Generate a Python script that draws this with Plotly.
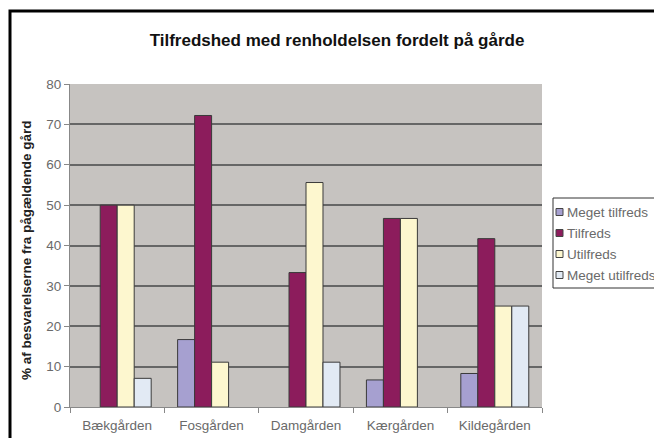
import plotly.graph_objects as go

categories = ["Bækgården", "Fosgården", "Damgården", "Kærgården", "Kildegården"]
series_names = ["Meget tilfreds", "Tilfreds", "Utilfreds", "Meget utilfreds"]
meget_tilfreds = [0, 16.7, 0, 6.7, 8.3]
tilfreds = [50, 72.2, 33.3, 46.7, 41.7]
utilfreds = [50, 11.1, 55.6, 46.7, 25]
meget_utilfreds = [7.1, 0, 11.1, 0, 25]
colors = ["#a6a0d0", "#8c1c5c", "#fdf7cf", "#e2eaf4"]

fig = go.Figure()
for name, vals, col in zip(series_names, [meget_tilfreds, tilfreds, utilfreds, meget_utilfreds], colors):
    fig.add_trace(go.Bar(x=categories, y=vals, name=name, showlegend=False,
                         marker=dict(color=col,
                                     line=dict(color="#3a3a3a",
                                               width=[1 if v > 0 else 0 for v in vals]))))

OFF = 8  # page body margin
W, H = 662, 438
# desired screen positions of plot area
SL, SR, ST, SB = 70, 542, 84, 407
L = SL - OFF
T = ST - OFF
R = W - (SR - OFF)
B = H - (SB - OFF)
pw, ph = W - L - R, H - T - B

def px(x):
    return (x - SL) / pw

def py(y):
    return (SB - y) / ph

FONT = "Liberation Sans, Arial"

shapes = [dict(type="rect", xref="paper", yref="paper",
               x0=px(10), x1=px(675), y0=py(450), y1=py(11),
               line=dict(color="black", width=3), layer="above"),
          # legend box
          dict(type="rect", xref="paper", yref="paper",
               x0=px(553), x1=px(680), y0=py(288), y1=py(198),
               line=dict(color="#333333", width=1), fillcolor="white", layer="above")]
annotations = [dict(text="<b>% af besvarelserne fra pågældende gård</b>",
                    xref="paper", yref="paper", x=px(27), y=py(250),
                    xanchor="center", yanchor="middle", textangle=-90,
                    showarrow=False, font=dict(family=FONT, size=13.5, color="#222222"))]
legend_y = [212, 233, 254, 275]
for name, col, yy in zip(series_names, colors, legend_y):
    shapes.append(dict(type="rect", xref="paper", yref="paper",
                       x0=px(556), x1=px(563), y0=py(yy + 3.5), y1=py(yy - 3.5),
                       line=dict(color="#444444", width=1), fillcolor=col, layer="above"))
    annotations.append(dict(text=name, xref="paper", yref="paper", x=px(565), y=py(yy),
                            xanchor="left", yanchor="middle", showarrow=False,
                            font=dict(family=FONT, size=13.5, color="#6a6a6a")))

fig.update_layout(
    width=W, height=H,
    margin=dict(l=L, r=R, t=T, b=B, autoexpand=False),
    paper_bgcolor="white",
    plot_bgcolor="#c6c3c0",
    barmode="group", bargap=0.28, bargroupgap=0,
    font=dict(family=FONT, color="#6a6a6a", size=13.5),
    title=dict(text="<b>Tilfredshed med renholdelsen fordelt på gårde</b>",
               x=(337 - OFF) / W, xanchor="center", y=1 - (40 - OFF) / H, yanchor="middle",
               font=dict(size=17, color="#111111")),
    showlegend=False,
    shapes=shapes,
    annotations=annotations,
)
fig.update_yaxes(range=[0, 80], dtick=10, showgrid=True, gridcolor="#666666", gridwidth=2,
                 showline=True, linecolor="#888888", ticks="outside", ticklen=5,
                 tickcolor="#888888", zeroline=False, automargin=False)
fig.update_xaxes(showline=True, linecolor="#888888", ticks="outside", ticklen=5,
                 tickcolor="#888888", tickson="boundaries", automargin=False,
                 ticklabelstandoff=6)

fig.write_html("out.html")
